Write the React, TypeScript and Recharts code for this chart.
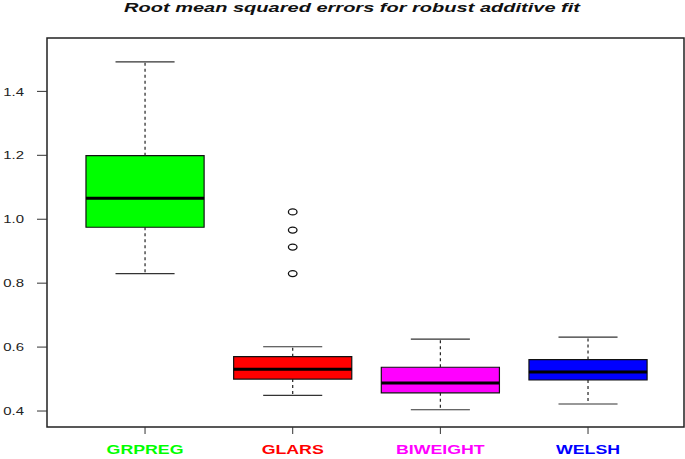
import { ComposedChart, XAxis, YAxis, ReferenceArea, ReferenceLine, Scatter } from 'recharts';

const categories = ['GRPREG', 'GLARS', 'BIWEIGHT', 'WELSH'];
const boxColors = ['#00ff00', '#ff0000', '#ff00ff', '#0000ff'];
const lowerWhisker = [0.83, 0.449, 0.404, 0.422];
const q1 = [0.975, 0.5, 0.457, 0.497];
const median = [1.066, 0.531, 0.488, 0.522];
const q3 = [1.199, 0.57, 0.537, 0.561];
const upperWhisker = [1.492, 0.601, 0.625, 0.631];
const glarsOutliers = [1.023, 0.966, 0.913, 0.83];
const yTicks = [0.4, 0.6, 0.8, 1.0, 1.2, 1.4];
const xTicks = [1, 2, 3, 4];

const FONT = '"Liberation Sans", Arial, sans-serif';
const xDomain: [number, number] = [0.336, 4.65];
const yDomain: [number, number] = [0.35, 1.567];

const outlierData = glarsOutliers.map((y) => ({ x: 2, y }));

function YTick({ x, y, payload }: any) {
  return (
    <g transform={`translate(${x},${y}) scale(1.3,1)`}>
      <text x={0} y={0} dy="0.36em" textAnchor="end" fontSize={11.5} fill="#222" fontFamily={FONT}>
        {Number(payload.value).toFixed(1)}
      </text>
    </g>
  );
}

function XTick({ x, y, payload }: any) {
  const i = Math.round(payload.value) - 1;
  return (
    <g transform={`translate(${x},${y}) scale(1.42,1)`}>
      <text x={0} y={0} dy={10} textAnchor="middle" fontSize={12.5} fontWeight="bold" fill={boxColors[i]} fontFamily={FONT}>
        {categories[i]}
      </text>
    </g>
  );
}

function Outlier({ cx, cy }: any) {
  return <ellipse cx={cx} cy={cy} rx={4.3} ry={3} fill="none" stroke="#111" strokeWidth={1.3} />;
}

export default function App() {
  return (
    <div style={{ position: 'absolute', left: 0, top: 0, width: 685, height: 459, background: '#fff' }}>
      <svg width={685} height={30} style={{ position: 'absolute', left: 0, top: 0 }}>
        <text
          x={352}
          y={12}
          textAnchor="middle"
          textLength={456}
          lengthAdjust="spacingAndGlyphs"
          fontSize={13.5}
          fontWeight="bold"
          fontStyle="italic"
          fill="#111"
          fontFamily={FONT}
        >
          Root mean squared errors for robust additive fit
        </text>
      </svg>
      <ComposedChart width={685} height={459} data={outlierData} margin={{ top: 38, right: 1, bottom: 0, left: 0 }}>
        <XAxis
          type="number"
          dataKey="x"
          domain={xDomain}
          allowDataOverflow
          ticks={xTicks}
          interval={0}
          height={32}
          axisLine={false}
          tickSize={7}
          tickMargin={10}
          tickLine={{ stroke: '#333' }}
          tick={<XTick />}
        />
        <YAxis
          type="number"
          dataKey="y"
          domain={yDomain}
          allowDataOverflow
          ticks={yTicks}
          interval={0}
          width={47}
          axisLine={false}
          tickSize={10}
          tickMargin={13}
          tickLine={{ stroke: '#333' }}
          tick={<YTick />}
        />
        <ReferenceArea
          x1={xDomain[0]}
          x2={xDomain[1]}
          y1={yDomain[0]}
          y2={yDomain[1]}
          fill="none"
          stroke="#222"
          strokeWidth={1.5}
          ifOverflow="visible"
        />
        {categories.map((c, i) => (
          <ReferenceArea
            key={'box-' + c}
            x1={i + 1 - 0.4}
            x2={i + 1 + 0.4}
            y1={q1[i]}
            y2={q3[i]}
            fill={boxColors[i]}
            fillOpacity={1}
            stroke="#111"
            strokeWidth={1.2}
          />
        ))}
        {categories.map((c, i) => (
          <ReferenceLine
            key={'uw-' + c}
            segment={[{ x: i + 1, y: q3[i] }, { x: i + 1, y: upperWhisker[i] }]}
            stroke="#222"
            strokeWidth={1.2}
            strokeDasharray="3 3"
          />
        ))}
        {categories.map((c, i) => (
          <ReferenceLine
            key={'lw-' + c}
            segment={[{ x: i + 1, y: q1[i] }, { x: i + 1, y: lowerWhisker[i] }]}
            stroke="#222"
            strokeWidth={1.2}
            strokeDasharray="3 3"
          />
        ))}
        {categories.map((c, i) => (
          <ReferenceLine
            key={'uc-' + c}
            segment={[{ x: i + 1 - 0.2, y: upperWhisker[i] }, { x: i + 1 + 0.2, y: upperWhisker[i] }]}
            stroke="#333"
            strokeWidth={1.2}
          />
        ))}
        {categories.map((c, i) => (
          <ReferenceLine
            key={'lc-' + c}
            segment={[{ x: i + 1 - 0.2, y: lowerWhisker[i] }, { x: i + 1 + 0.2, y: lowerWhisker[i] }]}
            stroke="#333"
            strokeWidth={1.2}
          />
        ))}
        {categories.map((c, i) => (
          <ReferenceLine
            key={'med-' + c}
            segment={[{ x: i + 1 - 0.4, y: median[i] }, { x: i + 1 + 0.4, y: median[i] }]}
            stroke="#000"
            strokeWidth={3}
          />
        ))}
        <Scatter data={outlierData} dataKey="y" shape={<Outlier />} isAnimationActive={false} />
      </ComposedChart>
    </div>
  );
}
